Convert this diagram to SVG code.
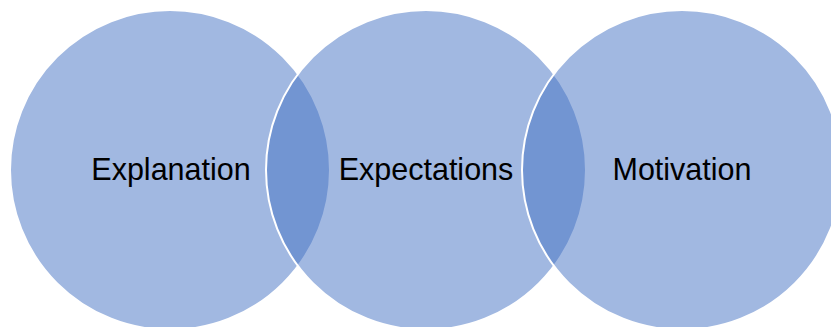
<svg xmlns="http://www.w3.org/2000/svg" width="831" height="327" viewBox="0 0 831 327">
  <style>
    .c { fill: #4472C4; fill-opacity: 0.5; stroke: #FFFFFF; stroke-width: 2; }
    .t { font-family: "Liberation Sans", Arial, sans-serif; font-size: 30.5px; fill: #000000; text-anchor: middle; }
  </style>
  <rect x="0" y="0" width="831" height="327" fill="#FFFFFF"/>
  <g id="node-explanation">
    <circle class="c" cx="170" cy="170" r="160"/>
    <text class="t" x="171" y="179.5">Explanation</text>
  </g>
  <g id="node-expectations">
    <circle class="c" cx="426" cy="170" r="160"/>
    <text class="t" x="426" y="179.5">Expectations</text>
  </g>
  <g id="node-motivation">
    <circle class="c" cx="682" cy="170" r="160"/>
    <text class="t" x="682" y="179.5">Motivation</text>
  </g>
  <g id="connectors"></g>
</svg>
